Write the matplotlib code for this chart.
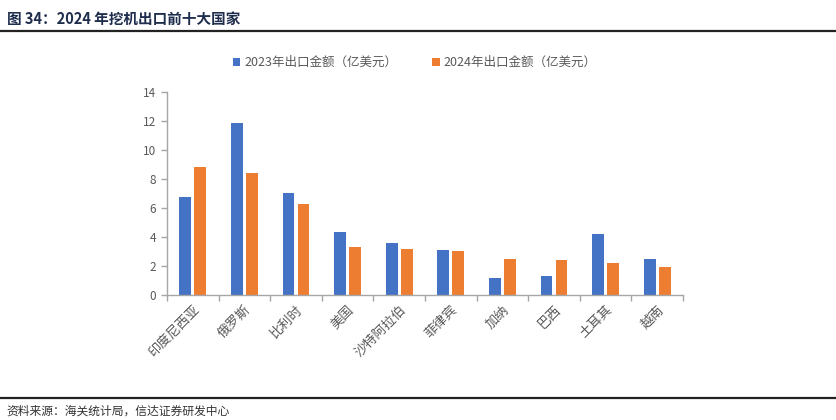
import numpy as np
import matplotlib.pyplot as plt
from matplotlib.lines import Line2D

plt.rcParams['font.family'] = ['Noto Sans CJK SC', 'DejaVu Sans']

# data (亿美元)
countries = ['印度尼西亚', '俄罗斯', '比利时', '美国', '沙特阿拉伯', '菲律宾', '加纳', '巴西', '土耳其', '越南']
v2023 = [6.78, 11.90, 7.01, 4.36, 3.60, 3.09, 1.13, 1.29, 4.17, 2.49]
v2024 = [8.81, 8.39, 6.25, 3.32, 3.14, 3.02, 2.49, 2.42, 2.17, 1.89]
labels = ['2023年出口金额（亿美元）', '2024年出口金额（亿美元）']
yticks = [0, 2, 4, 6, 8, 10, 12, 14]

blue = '#4472C4'
orange = '#ED7D31'
grey = '#595959'

fig = plt.figure(figsize=(8.37, 4.2), dpi=100)
ax = fig.add_axes([0.1995, 0.2983, 0.6165, 0.4817])

x = np.arange(len(countries))
w = 0.227
ax.bar(x - 0.145, v2023, w, color=blue, label=labels[0])
ax.bar(x + 0.145, v2024, w, color=orange, label=labels[1])

ax.set_xlim(-0.5, len(countries) - 0.5)
ax.set_ylim(0, 14)
ax.set_yticks(yticks)
ax.set_yticklabels([str(t) for t in yticks], fontsize=8.5, color=grey)

ax.set_xticks(x)
ax.set_xticklabels(countries, rotation=45, ha='right', rotation_mode='anchor',
                   fontsize=9.5, color=grey)
ax.tick_params(axis='x', which='major', length=0, pad=6)
ax.set_xticks(np.arange(-0.5, len(countries)), minor=True)
ax.tick_params(axis='x', which='minor', length=4, color='#A6A6A6', width=1)
ax.tick_params(axis='y', length=4, color='#A6A6A6', width=1, pad=4)

for s in ['top', 'right']:
    ax.spines[s].set_visible(False)
for s in ['left', 'bottom']:
    ax.spines[s].set_color('#A6A6A6')
    ax.spines[s].set_linewidth(1)

ax.legend(loc='lower center', bbox_to_anchor=(0.48, 1.06), ncol=2, frameon=False,
          fontsize=9, handlelength=0.6, handleheight=0.6, handletextpad=0.3,
          columnspacing=2.8, labelcolor=grey)

# header & footer
fig.text(0.008, 0.975, '图 34：2024 年挖机出口前十大国家', fontsize=10.5, fontweight='bold',
         color='#1F2D4D', va='top', ha='left')
fig.add_artist(Line2D([0, 1], [0.926, 0.926], color='#222222', lw=1.6))
fig.add_artist(Line2D([0, 1], [0.052, 0.052], color='#222222', lw=1.6))
fig.text(0.008, 0.02, '资料来源：海关统计局，信达证券研发中心', fontsize=8.5, style='italic',
         color='#333333', va='center', ha='left')

fig.savefig('out.png', dpi=100)
